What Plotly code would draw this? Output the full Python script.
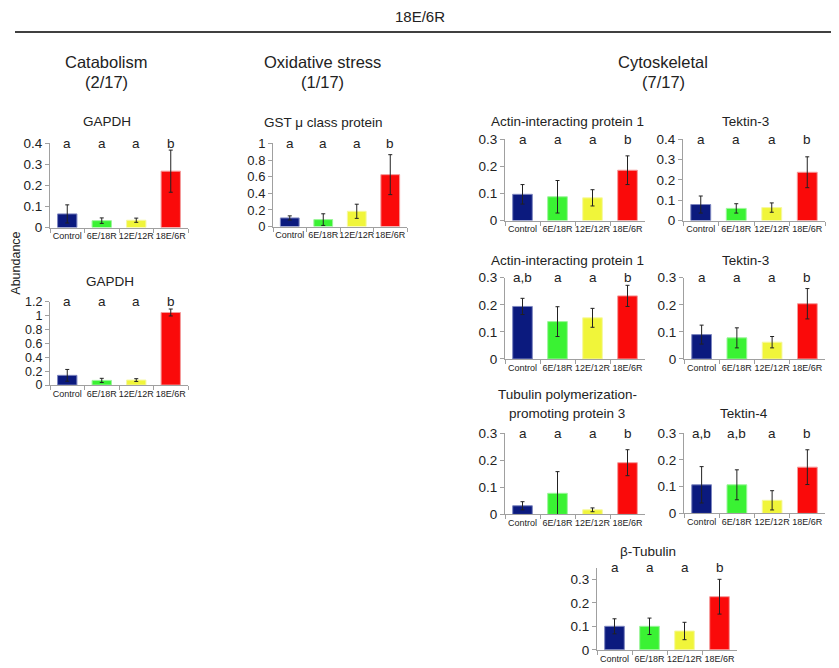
import plotly.graph_objects as go

# empirical page mapping: picture_y ~= 15 + 0.975 * figure_y ; picture_x = 8 + figure_x
OFF_X = 8
Y0, YS = 15.0, 0.975
W, H = 839 - 2 * OFF_X, 675

categories = ["Control", "6E/18R", "12E/12R", "18E/6R"]
bar_colors = ["#0b1a7e", "#3af233", "#f0f53a", "#fa0a0a"]
bar_edges = ["#7d86c0", "#9cf59a", "#f6f8a0", "#f59a9a"]

gapdh_a_mean = [0.065, 0.033, 0.035, 0.268]
gapdh_a_err = [0.043, 0.013, 0.010, 0.100]
gapdh_a_letters = ["a", "a", "a", "b"]

gapdh_b_mean = [0.140, 0.067, 0.072, 1.046]
gapdh_b_err = [0.085, 0.030, 0.020, 0.050]
gapdh_b_letters = ["a", "a", "a", "b"]

gst_mean = [0.104, 0.084, 0.184, 0.624]
gst_err = [0.025, 0.070, 0.085, 0.240]
gst_letters = ["a", "a", "a", "b"]

aip1_a_mean = [0.097, 0.088, 0.084, 0.186]
aip1_a_err = [0.036, 0.060, 0.030, 0.053]
aip1_a_letters = ["a", "a", "a", "b"]

tek3_a_mean = [0.079, 0.060, 0.064, 0.238]
tek3_a_err = [0.042, 0.023, 0.023, 0.076]
tek3_a_letters = ["a", "a", "a", "b"]

aip1_b_mean = [0.194, 0.138, 0.152, 0.233]
aip1_b_err = [0.030, 0.055, 0.035, 0.039]
aip1_b_letters = ["a,b", "a", "a", "b"]

tek3_b_mean = [0.090, 0.078, 0.062, 0.204]
tek3_b_err = [0.035, 0.037, 0.021, 0.056]
tek3_b_letters = ["a", "a", "a", "b"]

tppp3_mean = [0.032, 0.078, 0.017, 0.191]
tppp3_err = [0.015, 0.080, 0.007, 0.048]
tppp3_letters = ["a", "a", "a", "b"]

tek4_mean = [0.107, 0.107, 0.049, 0.173]
tek4_err = [0.068, 0.056, 0.036, 0.065]
tek4_letters = ["a,b", "a,b", "a", "b"]

btub_mean = [0.100, 0.100, 0.080, 0.226]
btub_err = [0.032, 0.035, 0.037, 0.074]
btub_letters = ["a", "a", "a", "b"]

FONT = "Liberation Sans, Arial, sans-serif"

def px_x(v):
    return (v - OFF_X) / W

def px_y(v):
    return 1 - max(0.0, (v - Y0) / YS) / H

panels = [
    dict(title=["GAPDH"], ty=[121], tx=107, mean=gapdh_a_mean, err=gapdh_a_err, letters=gapdh_a_letters,
         xd=(50, 188), yd=(143, 227), yr=[0, 0.4], tv=[0, 0.1, 0.2, 0.3, 0.4], fs=13.5),
    dict(title=["GAPDH"], ty=[281], tx=110, mean=gapdh_b_mean, err=gapdh_b_err, letters=gapdh_b_letters,
         xd=(50, 188), yd=(301, 384), yr=[0, 1.2], tv=[0, 0.2, 0.4, 0.6, 0.8, 1, 1.2], fs=12.5),
    dict(title=["GST \u03bc class protein"], ty=[122], tx=323, mean=gst_mean, err=gst_err, letters=gst_letters,
         xd=(273, 407), yd=(143, 226), yr=[0, 1], tv=[0, 0.2, 0.4, 0.6, 0.8, 1], fs=13),
    dict(title=["Actin-interacting protein 1"], ty=[121], tx=567, mean=aip1_a_mean, err=aip1_a_err, letters=aip1_a_letters,
         xd=(505, 645), yd=(139, 220), yr=[0, 0.3], tv=[0, 0.1, 0.2, 0.3], fs=13.5),
    dict(title=["Tektin-3"], ty=[121], tx=745, mean=tek3_a_mean, err=tek3_a_err, letters=tek3_a_letters,
         xd=(683, 825), yd=(139, 220), yr=[0, 0.4], tv=[0, 0.1, 0.2, 0.3, 0.4], fs=13.5),
    dict(title=["Actin-interacting protein 1"], ty=[260], tx=567, mean=aip1_b_mean, err=aip1_b_err, letters=aip1_b_letters,
         xd=(505, 645), yd=(277, 358), yr=[0, 0.3], tv=[0, 0.1, 0.2, 0.3], fs=13.5),
    dict(title=["Tektin-3"], ty=[260], tx=745, mean=tek3_b_mean, err=tek3_b_err, letters=tek3_b_letters,
         xd=(684, 825), yd=(277, 358), yr=[0, 0.3], tv=[0, 0.1, 0.2, 0.3], fs=13.5),
    dict(title=["Tubulin polymerization-", "promoting protein 3"], ty=[393, 412], tx=567, mean=tppp3_mean, err=tppp3_err,
         letters=tppp3_letters, xd=(505, 645), yd=(432, 513), yr=[0, 0.3], tv=[0, 0.1, 0.2, 0.3], fs=13.5),
    dict(title=["Tektin-4"], ty=[412], tx=744, mean=tek4_mean, err=tek4_err, letters=tek4_letters,
         xd=(684, 825), yd=(432, 512), yr=[0, 0.3], tv=[0, 0.1, 0.2, 0.3], fs=13.5),
    dict(title=["\u03b2-Tubulin"], ty=[550], tx=648, mean=btub_mean, err=btub_err, letters=btub_letters,
         xd=(597, 737), yd=(566, 648), yr=[0, 0.35], tv=[0, 0.1, 0.2, 0.3], fs=13.5),
]

fig = go.Figure()
layout = {}
annotations = []

for i, p in enumerate(panels, start=1):
    xa = "x" if i == 1 else f"x{i}"
    ya = "y" if i == 1 else f"y{i}"
    fig.add_trace(go.Bar(
        x=categories, y=p["mean"], xaxis=xa, yaxis=ya,
        marker=dict(color=bar_colors, line=dict(color=bar_edges, width=1)),
        error_y=dict(type="data", array=p["err"], color="#222222", thickness=1, width=2),
        showlegend=False, hoverinfo="x+y",
    ))
    xkey = "xaxis" if i == 1 else f"xaxis{i}"
    ykey = "yaxis" if i == 1 else f"yaxis{i}"
    layout[xkey] = dict(
        domain=[px_x(p["xd"][0]), px_x(p["xd"][1])], anchor=ya,
        type="category", showline=True, linecolor="#a0a0a0", linewidth=1,
        ticks="outside", tickson="boundaries", ticklen=4, tickcolor="#a0a0a0",
        tickangle=0, tickfont=dict(size=9, color="#222", family=FONT), showgrid=False, zeroline=False,
        fixedrange=True,
    )
    layout[ykey] = dict(
        domain=[px_y(p["yd"][1]), px_y(p["yd"][0])], anchor=xa,
        range=p["yr"], tickvals=p["tv"], showline=True, linecolor="#a0a0a0", linewidth=1,
        ticks="outside", ticklen=4, tickcolor="#a0a0a0",
        tickfont=dict(size=p["fs"], color="#222", family=FONT), showgrid=False, zeroline=False,
        fixedrange=True,
    )
    for cat, letter in zip(categories, p["letters"]):
        annotations.append(dict(
            x=cat, xref=xa, y=1, yref=f"{ya} domain", text=letter, showarrow=False,
            xanchor="center", yanchor="middle", font=dict(size=13.5, color="#222", family=FONT),
        ))
    for line, ty in zip(p["title"], p["ty"]):
        annotations.append(dict(
            x=px_x(p["tx"]), xref="paper", y=px_y(ty), yref="paper", text=line, showarrow=False,
            xanchor="center", yanchor="middle", font=dict(size=13.5, color="#222", family=FONT),
        ))

group_titles = [("Catabolism", "(2/17)", 106), ("Oxidative stress", "(1/17)", 322), ("Cytoskeletal", "(7/17)", 663)]
for name, count, cx in group_titles:
    annotations.append(dict(x=px_x(cx), y=px_y(62), xref="paper", yref="paper", text=name, showarrow=False,
                            xanchor="center", yanchor="middle", font=dict(size=16.5, color="#222", family=FONT)))
    annotations.append(dict(x=px_x(cx), y=px_y(82), xref="paper", yref="paper", text=count, showarrow=False,
                            xanchor="center", yanchor="middle", font=dict(size=16.5, color="#222", family=FONT)))

annotations.append(dict(x=px_x(420), y=px_y(16), xref="paper", yref="paper", text="18E/6R", showarrow=False,
                        xanchor="center", yanchor="middle", font=dict(size=15, color="#222", family=FONT)))
annotations.append(dict(x=px_x(16), y=px_y(263), xref="paper", yref="paper", text="Abundance", showarrow=False,
                        textangle=-90, xanchor="center", yanchor="middle",
                        font=dict(size=12.5, color="#222", family=FONT)))

fig.update_layout(
    width=W, height=H, margin=dict(l=0, r=0, t=0, b=0),
    paper_bgcolor="white", plot_bgcolor="white",
    bargap=0.44, annotations=annotations,
    shapes=[dict(type="line", xref="paper", yref="paper", x0=px_x(15), x1=px_x(839), y0=px_y(32), y1=px_y(32),
                 line=dict(color="black", width=1.5))],
    font=dict(family=FONT),
    **layout,
)

fig.write_html("out.html")
